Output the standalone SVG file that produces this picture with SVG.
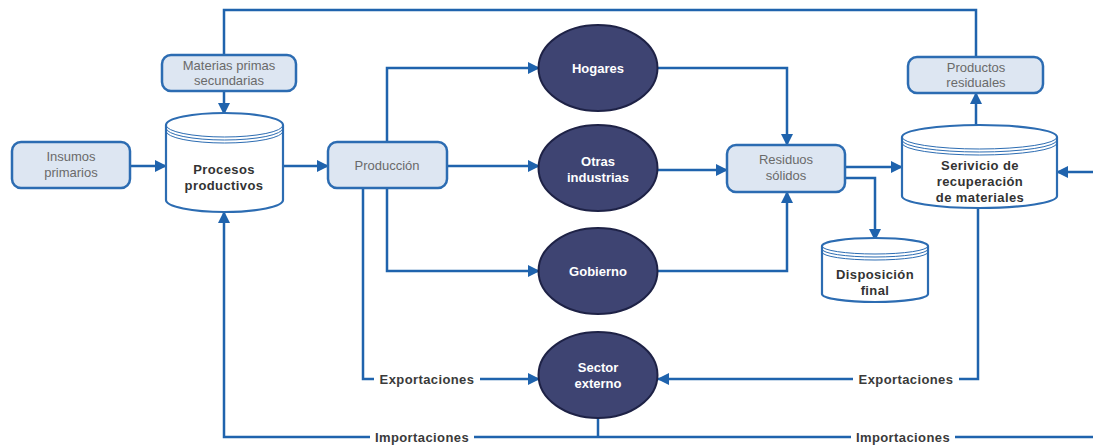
<svg xmlns="http://www.w3.org/2000/svg" width="1093" height="446" viewBox="0 0 1093 446">
<defs>
<marker id="ah" markerWidth="12" markerHeight="12" viewBox="0 0 12 12" refX="11" refY="6" orient="auto" markerUnits="userSpaceOnUse">
<path d="M0,0 L12,6 L0,12 Z" fill="#1f63ad"/>
</marker>
<style>
.box{fill:#dde6f2;stroke:#2c6cb2;stroke-width:2.5}
.ell{fill:#3e4472;stroke:#1e2246;stroke-width:2}
.cyl{fill:#ffffff;stroke:#2c6cb2;stroke-width:2.2}
.rim{fill:none;stroke:#2c6cb2;stroke-width:1}
.edge{fill:none;stroke:#1f63ad;stroke-width:2.5}
.bt{font-family:"Liberation Sans",Arial,sans-serif;font-size:13px;fill:#6a6a6a;text-anchor:middle}
.et{font-family:"Liberation Sans",Arial,sans-serif;font-size:13px;font-weight:bold;fill:#ffffff;text-anchor:middle}
.ct{font-family:"Liberation Sans",Arial,sans-serif;font-size:13px;font-weight:bold;fill:#333333;text-anchor:middle;letter-spacing:0.4px}
.lt{font-family:"Liberation Sans",Arial,sans-serif;font-size:13px;font-weight:bold;fill:#3a3a3a;text-anchor:middle;letter-spacing:0.4px}
</style>
</defs>
<rect width="1093" height="446" fill="#ffffff"/>
<g id="connectors">
<polyline class="edge" points="976,57 976,10 224,10 224,55"/>
<line class="edge" x1="224" y1="91" x2="224" y2="114" marker-end="url(#ah)"/>
<line class="edge" x1="130" y1="166" x2="166" y2="166" marker-end="url(#ah)"/>
<line class="edge" x1="283" y1="166" x2="328" y2="166" marker-end="url(#ah)"/>
<polyline class="edge" points="387,142 387,68 539,68" marker-end="url(#ah)"/>
<line class="edge" x1="447" y1="166" x2="539" y2="166" marker-end="url(#ah)"/>
<polyline class="edge" points="387,188 387,271 539,271" marker-end="url(#ah)"/>
<polyline class="edge" points="363,188 363,379 539,379" marker-end="url(#ah)"/>
<polyline class="edge" points="658,68 787,68 787,145" marker-end="url(#ah)"/>
<line class="edge" x1="658" y1="170" x2="727" y2="170" marker-end="url(#ah)"/>
<polyline class="edge" points="658,271 787,271 787,192" marker-end="url(#ah)"/>
<line class="edge" x1="845" y1="167" x2="902" y2="167" marker-end="url(#ah)"/>
<polyline class="edge" points="845,178 875,178 875,240" marker-end="url(#ah)"/>
<line class="edge" x1="976" y1="125" x2="976" y2="93" marker-end="url(#ah)"/>
<line class="edge" x1="1093" y1="172" x2="1057" y2="172" marker-end="url(#ah)"/>
<polyline class="edge" points="978,207 978,379 658,379" marker-end="url(#ah)"/>
<line class="edge" x1="598" y1="418" x2="598" y2="437"/>
<polyline class="edge" points="1093,437 224,437 224,212" marker-end="url(#ah)"/>
<rect x="374" y="370" width="106" height="18" fill="#ffffff"/>
<text class="lt" x="427" y="384">Exportaciones</text>
<rect x="853" y="370" width="106" height="18" fill="#ffffff"/>
<text class="lt" x="906" y="384">Exportaciones</text>
<rect x="370" y="428" width="104" height="18" fill="#ffffff"/>
<text class="lt" x="422" y="442">Importaciones</text>
<rect x="851" y="428" width="104" height="18" fill="#ffffff"/>
<text class="lt" x="903" y="442">Importaciones</text>
</g>
<g id="insumos">
<rect class="box" x="12" y="142" width="118" height="46" rx="9"/>
<text class="bt" x="71" y="161">Insumos</text>
<text class="bt" x="71" y="177">primarios</text>
</g>
<g id="materias">
<rect class="box" x="162" y="55" width="134" height="36" rx="9"/>
<text class="bt" x="229" y="70">Materias primas</text>
<text class="bt" x="229" y="85">secundarias</text>
</g>
<g id="procesos">
<path class="cyl" d="M166,125 A58.5,12 0 0 1 283,125 L283,200 A58.5,12 0 0 1 166,200 Z"/>
<path class="rim" d="M166,125 A58.5,12 0 0 0 283,125"/>
<path class="rim" d="M166,128 A58.5,12 0 0 0 283,128"/>
<path class="rim" d="M166,131 A58.5,12 0 0 0 283,131"/>
<text class="ct" x="224" y="174">Procesos</text>
<text class="ct" x="224" y="190">productivos</text>
</g>
<g id="produccion">
<rect class="box" x="328" y="142" width="119" height="46" rx="9"/>
<text class="bt" x="387" y="170">Producción</text>
</g>
<g id="hogares">
<ellipse class="ell" cx="598" cy="68" rx="59.5" ry="43"/>
<text class="et" x="598" y="73">Hogares</text>
</g>
<g id="otras">
<ellipse class="ell" cx="598" cy="168" rx="59.5" ry="43"/>
<text class="et" x="598" y="166">Otras</text>
<text class="et" x="598" y="182">industrias</text>
</g>
<g id="gobierno">
<ellipse class="ell" cx="598" cy="271" rx="59.5" ry="43"/>
<text class="et" x="598" y="276">Gobierno</text>
</g>
<g id="sector">
<ellipse class="ell" cx="598" cy="375" rx="59.5" ry="43"/>
<text class="et" x="598" y="372">Sector</text>
<text class="et" x="598" y="388">externo</text>
</g>
<g id="residuos">
<rect class="box" x="727" y="145" width="118" height="47" rx="9"/>
<text class="bt" x="786" y="164">Residuos</text>
<text class="bt" x="786" y="180">sólidos</text>
</g>
<g id="productos">
<rect class="box" x="908" y="57" width="135" height="36" rx="9"/>
<text class="bt" x="976" y="72">Productos</text>
<text class="bt" x="976" y="87">residuales</text>
</g>
<g id="servicio">
<path class="cyl" d="M902,137 A77.5,12 0 0 1 1057,137 L1057,196 A77.5,12 0 0 1 902,196 Z"/>
<path class="rim" d="M902,137 A77.5,12 0 0 0 1057,137"/>
<path class="rim" d="M902,140 A77.5,12 0 0 0 1057,140"/>
<path class="rim" d="M902,143 A77.5,12 0 0 0 1057,143"/>
<text class="ct" x="980" y="170">Serivicio de</text>
<text class="ct" x="980" y="186">recuperación</text>
<text class="ct" x="980" y="202">de materiales</text>
</g>
<g id="disposicion">
<path class="cyl" d="M822,246 A53,8 0 0 1 928,246 L928,294 A53,8 0 0 1 822,294 Z"/>
<path class="rim" d="M822,246 A53,8 0 0 0 928,246"/>
<path class="rim" d="M822,249 A53,8 0 0 0 928,249"/>
<path class="rim" d="M822,252 A53,8 0 0 0 928,252"/>
<text class="ct" x="875" y="279">Disposición</text>
<text class="ct" x="875" y="295">final</text>
</g>
</svg>
